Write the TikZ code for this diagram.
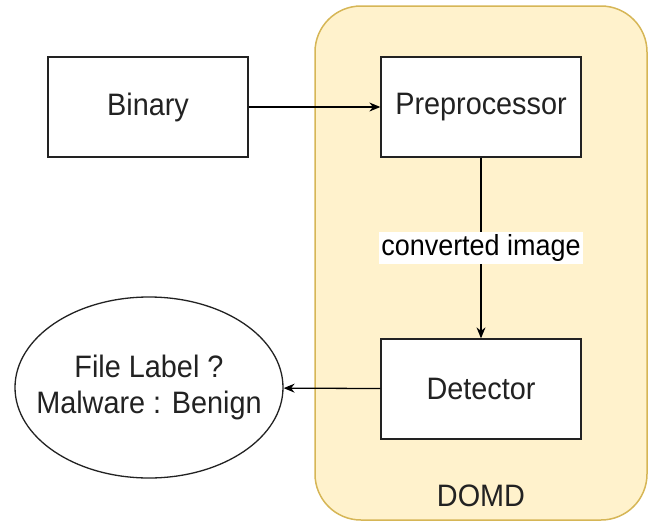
\documentclass[tikz,border=0pt]{standalone}
\usepackage{fontspec}
\setmainfont{Liberation Sans}[FakeStretch=0.93]
\usetikzlibrary{arrows.meta,shapes.geometric}
\definecolor{domdfill}{HTML}{FFF2CC}
\definecolor{domdline}{HTML}{D6B656}
\definecolor{inkgray}{HTML}{222222}
\begin{document}
\begin{tikzpicture}[x=1pt,y=-1pt,
  bigtext/.style={font=\fontsize{31}{36}\selectfont,text=inkgray},
  block/.style={draw=inkgray,line width=1.3pt,fill=white,minimum width=200pt,minimum height=100pt,bigtext},
  flow/.style={draw=black,line width=1.3pt,-{Stealth[length=11pt,width=9pt]}}]
\useasboundingbox (0,0) rectangle (657,523);
% DOMD container
\node[draw=domdline,fill=domdfill,line width=1.5pt,rounded corners=46pt,minimum width=332pt,minimum height=514pt] (domd) at (481,263) {};
\node[bigtext] (domdlabel) at (481,496) {DOMD};
% Blocks
\node[block] (bin) at (148,107) {Binary};
\node[block] (pre) at (481,107) {Preprocessor};
\node[block] (det) at (481,389) {Detector};
\node[draw=inkgray,line width=1.3pt,fill=white,ellipse,minimum width=268pt,minimum height=181pt,inner sep=0pt] (out) at (149,387.5) {};
\node[bigtext,align=center] (outtext) at (out.center) {File Label ?\\Malware : Benign};
% Connectors
\draw[flow] (bin) -- (pre);
\draw[flow] (pre) -- node[fill=white,inner sep=2pt,font=\fontsize{29}{33}\selectfont,text=black] (lbl) {converted image} (det);
\draw[flow] (det) -- (out);
\end{tikzpicture}
\end{document}
